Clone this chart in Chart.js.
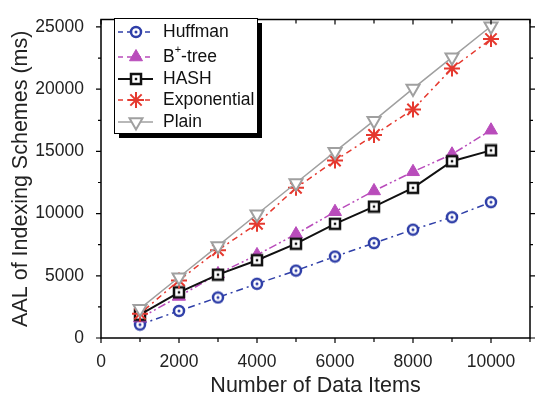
<!DOCTYPE html>
<html>
<head>
<meta charset="utf-8">
<script src="https://cdn.jsdelivr.net/npm/chart.js@4.4.1/dist/chart.umd.min.js"></script>
<style>
  html, body { margin: 0; padding: 0; background: #fff; }
  #wrap { width: 540px; height: 402px; }
</style>
</head>
<body>
<div id="wrap"><canvas id="aal"></canvas></div>
<script>
const items = [1000, 2000, 3000, 4000, 5000, 6000, 7000, 8000, 9000, 10000];
const huffman = [1080, 2180, 3260, 4360, 5420, 6550, 7630, 8710, 9710, 10920];
const btree = [1600, 3340, 5150, 6680, 8350, 10150, 11820, 13360, 14770, 16700];
const hash = [1870, 3670, 5090, 6250, 7580, 9180, 10560, 12070, 14210, 15080];
const exponential = [1950, 4630, 7060, 9180, 12070, 14260, 16320, 18370, 21670, 24030];
const plain = [2360, 4880, 7400, 9950, 12460, 14980, 17470, 20050, 22560, 25060];
const xTicks = [0, 2000, 4000, 6000, 8000, 10000];
const yTicks = [0, 5000, 10000, 15000, 20000, 25000];

const FONT = '"Liberation Sans", Arial, sans-serif';

// small marker images
function marker(size, draw) {
  const c = document.createElement('canvas');
  c.width = size; c.height = size;
  draw(c.getContext('2d'), size / 2);
  return c;
}
const circleDot = marker(14, (g, m) => {
  g.strokeStyle = '#2f3fa8'; g.lineWidth = 2.5;
  g.fillStyle = '#fff';
  g.beginPath(); g.arc(m, m, 5, 0, Math.PI * 2); g.fill(); g.stroke();
  g.fillStyle = '#2f3fa8';
  g.beginPath(); g.arc(m, m, 1.5, 0, Math.PI * 2); g.fill();
});
const squareDot = marker(14, (g, m) => {
  g.strokeStyle = '#111'; g.lineWidth = 2.5;
  g.fillStyle = '#fff';
  g.fillRect(m - 5, m - 5, 10, 10);
  g.strokeRect(m - 5, m - 5, 10, 10);
  g.fillStyle = '#111';
  g.fillRect(m - 1.2, m - 1.2, 2.4, 2.4);
});

const series = [
  { label: 'Huffman', data: huffman, color: '#2f3fa8', dash: [7, 4, 2, 4], width: 1.5,
    style: circleDot, radius: 6, fill: '#fff', bw: 1 },
  { label: 'B+-tree', data: btree, color: '#b94cbb', dash: [8, 3, 2, 3, 2, 3], width: 1.5,
    style: 'triangle', radius: 7.5, fill: '#b94cbb', bw: 1 },
  { label: 'HASH', data: hash, color: '#111', dash: [], width: 2,
    style: squareDot, radius: 6, fill: '#fff', bw: 1 },
  { label: 'Exponential', data: exponential, color: '#e5392f', dash: [2, 4, 6, 4], width: 1.5,
    style: 'star', radius: 8, fill: '#e5392f', bw: 2 },
  { label: 'Plain', data: plain, color: '#a0a0a0', dash: [], width: 1.5,
    style: 'triangle', radius: 7.5, fill: '#fff', bw: 2, rot: 180 }
];

const framePlugin = {
  id: 'frame',
  afterDraw(chart) {
    const { ctx, chartArea: a, scales: { x, y } } = chart;
    ctx.save();
    ctx.strokeStyle = '#000';
    ctx.lineWidth = 1.5;
    ctx.strokeRect(a.left, a.top, a.right - a.left, a.bottom - a.top);
    ctx.lineWidth = 1.2;
    ctx.beginPath();
    for (let v = 0; v <= 11000; v += 1000) {
      const px = x.getPixelForValue(v);
      const len = v % 2000 === 0 ? 5 : 4;
      ctx.moveTo(px, a.bottom); ctx.lineTo(px, a.bottom + len);
      ctx.moveTo(px, a.top); ctx.lineTo(px, a.top + len);
    }
    for (let v = 0; v <= 25000; v += 2500) {
      const py = y.getPixelForValue(v);
      const len = v % 5000 === 0 ? 5 : 3;
      ctx.moveTo(a.left, py); ctx.lineTo(a.left - len, py);
      ctx.moveTo(a.right, py); ctx.lineTo(a.right + len, py);
    }
    ctx.stroke();

    // legend box with shadow
    const bx = 114, by = 18, bw = 143, bh = 115;
    ctx.fillStyle = '#000';
    ctx.fillRect(bx + 5, by + 5, bw, bh);
    ctx.fillStyle = '#fff';
    ctx.fillRect(bx, by, bw, bh);
    ctx.lineWidth = 1;
    ctx.strokeRect(bx + 0.5, by + 0.5, bw, bh);
    const rows = [32, 57, 79, 100, 122];
    ctx.font = '17.5px ' + FONT;
    ctx.textBaseline = 'middle';
    series.forEach((s, i) => {
      const ry = rows[i];
      ctx.strokeStyle = s.color;
      ctx.lineWidth = s.width;
      ctx.setLineDash(s.dash.length ? [5, 4] : []);
      ctx.beginPath(); ctx.moveTo(118, ry); ctx.lineTo(153, ry); ctx.stroke();
      ctx.setLineDash([]);
      ctx.fillStyle = s.fill;
      ctx.lineWidth = s.bw;
      Chart.helpers.drawPoint(ctx, { pointStyle: s.style, radius: s.radius, rotation: s.rot || 0, borderWidth: s.bw }, 136, ry);
      ctx.fillStyle = '#111';
      if (s.label === 'B+-tree') {
        ctx.fillText('B', 163, ry);
        const w = ctx.measureText('B').width;
        ctx.font = '11px ' + FONT;
        ctx.fillText('+', 163 + w, ry - 7);
        const w2 = ctx.measureText('+').width;
        ctx.font = '17.5px ' + FONT;
        ctx.fillText('-tree', 163 + w + w2, ry);
      } else {
        ctx.fillText(s.label, 163, ry);
      }
    });
    ctx.restore();
  }
};

new Chart(document.getElementById('aal'), {
  type: 'line',
  data: {
    datasets: series.map(s => ({
      label: s.label,
      data: items.map((v, i) => ({ x: v, y: s.data[i] })),
      borderColor: s.color,
      borderWidth: s.width,
      borderDash: s.dash,
      pointStyle: s.style,
      pointRadius: s.radius,
      pointRotation: s.rot || 0,
      pointBackgroundColor: s.fill,
      pointBorderColor: s.color,
      pointBorderWidth: s.bw,
      tension: 0
    })).reverse()
  },
  options: {
    responsive: true,
    maintainAspectRatio: false,
    animation: false,
    layout: { padding: { left: 0, right: 6.5, top: 6, bottom: 0 } },
    plugins: { legend: { display: false }, tooltip: { enabled: false } },
    scales: {
      x: {
        type: 'linear', min: 0, max: 11000,
        afterFit(s) { s.height = 64; },
        afterBuildTicks(s) { s.ticks = xTicks.map(v => ({ value: v })); },
        grid: { display: false },
        border: { display: false },
        ticks: { color: '#222', font: { family: FONT, size: 17.5 }, padding: 6, maxRotation: 0,
          callback: v => String(v) },
        title: { display: true, text: 'Number of Data Items', color: '#222',
          font: { family: FONT, size: 21.5 }, padding: { top: 3, bottom: 3 } }
      },
      y: {
        type: 'linear', min: 0, max: 25600,
        afterFit(s) { s.width = 101; },
        afterBuildTicks(s) { s.ticks = yTicks.map(v => ({ value: v })); },
        grid: { display: false },
        border: { display: false },
        ticks: { color: '#222', font: { family: FONT, size: 17.5 }, padding: 9,
          callback: v => String(v) },
        title: { display: true, text: 'AAL of Indexing Schemes (ms)', color: '#222',
          font: { family: FONT, size: 21.5 }, padding: { top: 8, bottom: 8 } }
      }
    }
  },
  plugins: [framePlugin]
});
</script>
</body>
</html>
